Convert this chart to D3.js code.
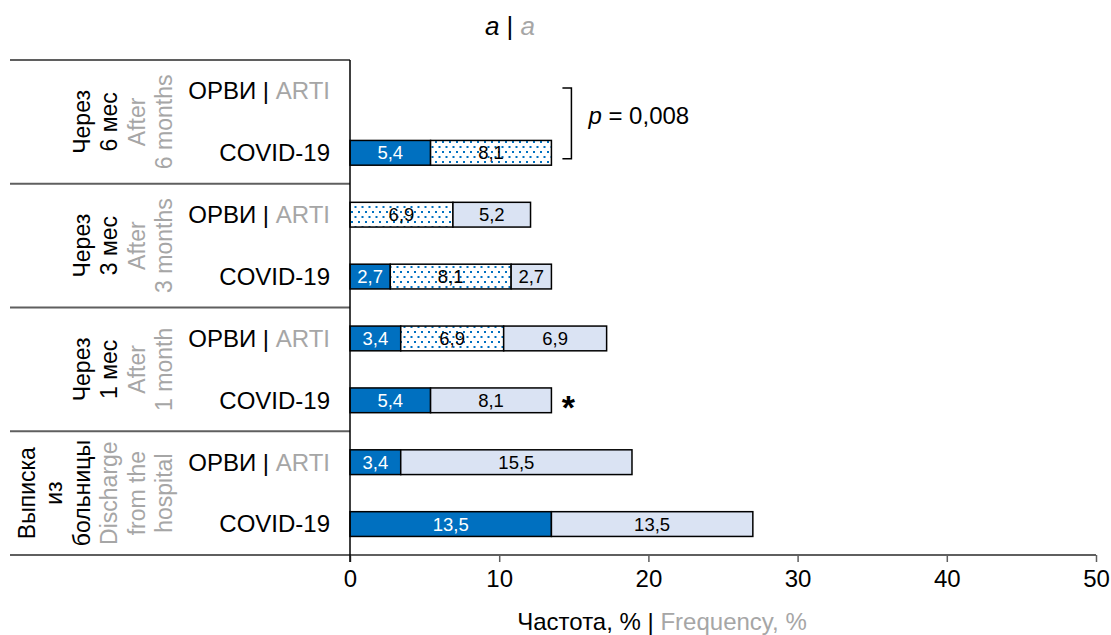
<!DOCTYPE html>
<html>
<head>
<meta charset="utf-8">
<script src="https://cdn.jsdelivr.net/npm/d3@7"></script>
<style>
  body { margin: 0; background: #fff; }
  text { font-family: "Liberation Sans", Arial, sans-serif; }
</style>
</head>
<body>
<div id="chart"></div>
<script>
// periods (top to bottom), two rows each: ОРВИ, COVID-19
const periodsRu = [["Через", "6 мес"], ["Через", "3 мес"], ["Через", "1 мес"], ["Выписка", "из", "больницы"]]
const periodsEn = [["After", "6 months"], ["After", "3 months"], ["After", "1 month"], ["Discharge", "from the", "hospital"]]
const diseasesRu = ["ОРВИ", "COVID-19"]
const diseasesEn = ["ARTI", ""]

// stacked segments per row (8 rows, top to bottom)
const seriesSolid = [0, 5.4, 0, 2.7, 3.4, 5.4, 3.4, 13.5]
const seriesDots = [0, 8.1, 6.9, 8.1, 6.9, 0, 0, 0]
const seriesLight = [0, 0, 5.2, 2.7, 6.9, 8.1, 15.5, 13.5]

const xTicks = [0, 10, 20, 30, 40, 50]

const W = 1111, H = 635
const plotLeft = 350, plotRight = 1096, plotTop = 60, plotBottom = 555
const gray = "#a6a6a6"
const lineGray = "#5f5f5f"

const svg = d3.select("#chart").append("svg")
    .attr("width", W)
    .attr("height", H)

// dotted fill
const pat = svg.append("defs").append("pattern")
    .attr("id", "dots")
    .attr("patternUnits", "userSpaceOnUse")
    .attr("width", 7).attr("height", 10)
pat.append("rect").attr("width", 7).attr("height", 10).attr("fill", "#fff")
pat.append("rect").attr("x", 1).attr("y", 1).attr("width", 2).attr("height", 2).attr("fill", "#0070c0")
pat.append("rect").attr("x", 4.5).attr("y", 6).attr("width", 2).attr("height", 2).attr("fill", "#0070c0")

const rows = d3.range(seriesSolid.length)
const x = d3.scaleLinear().domain([0, 50]).range([plotLeft, plotRight])
const y = d3.scaleBand().domain(rows).range([plotTop, plotBottom]).paddingInner(0.6).paddingOuter(0.3)
const rowStep = (plotBottom - plotTop) / rows.length
const fmt = v => d3.format(".1f")(v).replace(".", ",")

// title
const title = svg.append("text")
    .attr("x", 510).attr("y", 35)
    .attr("text-anchor", "middle")
    .style("font-size", "26px")
title.append("tspan").style("font-style", "italic").text("a")
title.append("tspan").text(" | ")
title.append("tspan").style("font-style", "italic").attr("fill", gray).text("a")

// group separators
svg.selectAll(".sep")
    .data(d3.range(periodsRu.length))
    .join("line")
    .attr("x1", 10).attr("x2", plotLeft)
    .attr("y1", i => plotTop + i * rowStep * 2)
    .attr("y2", i => plotTop + i * rowStep * 2)
    .attr("stroke", lineGray)
    .attr("stroke-width", 2)

// rotated period labels
periodsRu.forEach((ru, i) => {
    const cy = plotTop + (i + 0.5) * rowStep * 2
    const lines = ru.map(t => ({ t, c: "#000" })).concat(periodsEn[i].map(t => ({ t, c: gray })))
    const n = lines.length
    lines.forEach((l, j) => {
        const cx = 164 - (n - 1 - j) * 27.5
        svg.append("text")
            .attr("transform", `translate(${cx},${cy}) rotate(-90)`)
            .attr("dy", "0.35em")
            .attr("text-anchor", "middle")
            .attr("fill", l.c)
            .style("font-size", "23px")
            .text(l.t)
    })
})

// row labels
rows.forEach(r => {
    const k = r % 2
    const t = svg.append("text")
        .attr("x", 330)
        .attr("y", y(r) + y.bandwidth() / 2)
        .attr("dy", "0.35em")
        .attr("text-anchor", "end")
        .style("font-size", "24px")
    t.append("tspan").text(diseasesRu[k])
    if (diseasesEn[k]) {
        t.append("tspan").text(" | ")
        t.append("tspan").attr("fill", gray).text(diseasesEn[k])
    }
})

// stacked bars
const table = rows.map(r => ({ row: r, solid: seriesSolid[r], dots: seriesDots[r], light: seriesLight[r] }))
const keys = ["solid", "dots", "light"]
const fills = { solid: "#0070c0", dots: "url(#dots)", light: "#dae3f3" }
const stacked = d3.stack().keys(keys)(table)

stacked.forEach(layer => {
    const segs = layer.filter(d => d[1] - d[0] > 0)
    svg.selectAll(null)
        .data(segs)
        .join("rect")
        .attr("x", d => x(d[0]))
        .attr("y", d => y(d.data.row))
        .attr("width", d => x(d[1]) - x(d[0]))
        .attr("height", y.bandwidth())
        .attr("fill", fills[layer.key])
        .attr("stroke", "#000")
        .attr("stroke-width", 1.5)
    svg.selectAll(null)
        .data(segs)
        .join("text")
        .attr("x", d => (x(d[0]) + x(d[1])) / 2)
        .attr("y", d => y(d.data.row) + y.bandwidth() / 2)
        .attr("dy", "0.36em")
        .attr("text-anchor", "middle")
        .attr("fill", layer.key === "solid" ? "#fff" : "#000")
        .style("font-size", "18.5px")
        .text(d => fmt(d[1] - d[0]))
})

// x axis
const axis = svg.append("g")
    .attr("transform", `translate(0,${plotBottom})`)
    .call(d3.axisBottom(x).tickValues(xTicks).tickSize(7).tickPadding(8).tickFormat(d3.format("d")))
axis.select(".domain").remove()
axis.selectAll(".tick line").attr("stroke", lineGray).attr("stroke-width", 1.5)
axis.selectAll(".tick text")
    .attr("fill", "#000")
    .style("font-size", "24px")
    .style("font-family", "'Liberation Sans', Arial, sans-serif")
svg.append("line")
    .attr("x1", 10).attr("x2", plotRight)
    .attr("y1", plotBottom).attr("y2", plotBottom)
    .attr("stroke", lineGray).attr("stroke-width", 2)

// y axis line
svg.append("line")
    .attr("x1", plotLeft).attr("x2", plotLeft)
    .attr("y1", plotTop).attr("y2", plotBottom + 7)
    .attr("stroke", "#000").attr("stroke-width", 1.5)

// axis title
const xt = svg.append("text")
    .attr("x", 662).attr("y", 630)
    .attr("text-anchor", "middle")
    .style("font-size", "24px")
xt.append("tspan").text("Частота, % | ")
xt.append("tspan").attr("fill", gray).text("Frequency, %")

// significance bracket (6 months)
const c0 = y(0) + y.bandwidth() / 2, c1 = y(1) + y.bandwidth() / 2
const bx = x(13.5) + 20
svg.append("path")
    .attr("d", `M${bx - 9},${c0 - 3}H${bx}V${c1 + 6}H${bx - 9}`)
    .attr("fill", "none")
    .attr("stroke", "#000")
    .attr("stroke-width", 1.5)
const pt = svg.append("text")
    .attr("x", bx + 17).attr("y", (c0 + c1) / 2 - 6)
    .attr("dy", "0.35em")
    .style("font-size", "24px")
pt.append("tspan").style("font-style", "italic").text("p")
pt.append("tspan").text(" = 0,008")

// asterisk (1 month COVID-19)
svg.append("text")
    .attr("x", x(13.5) + 17)
    .attr("y", y(5) + y.bandwidth() / 2 + 19)
    .attr("text-anchor", "middle")
    .style("font-size", "34px")
    .style("font-weight", "bold")
    .text("*")
</script>
</body>
</html>
